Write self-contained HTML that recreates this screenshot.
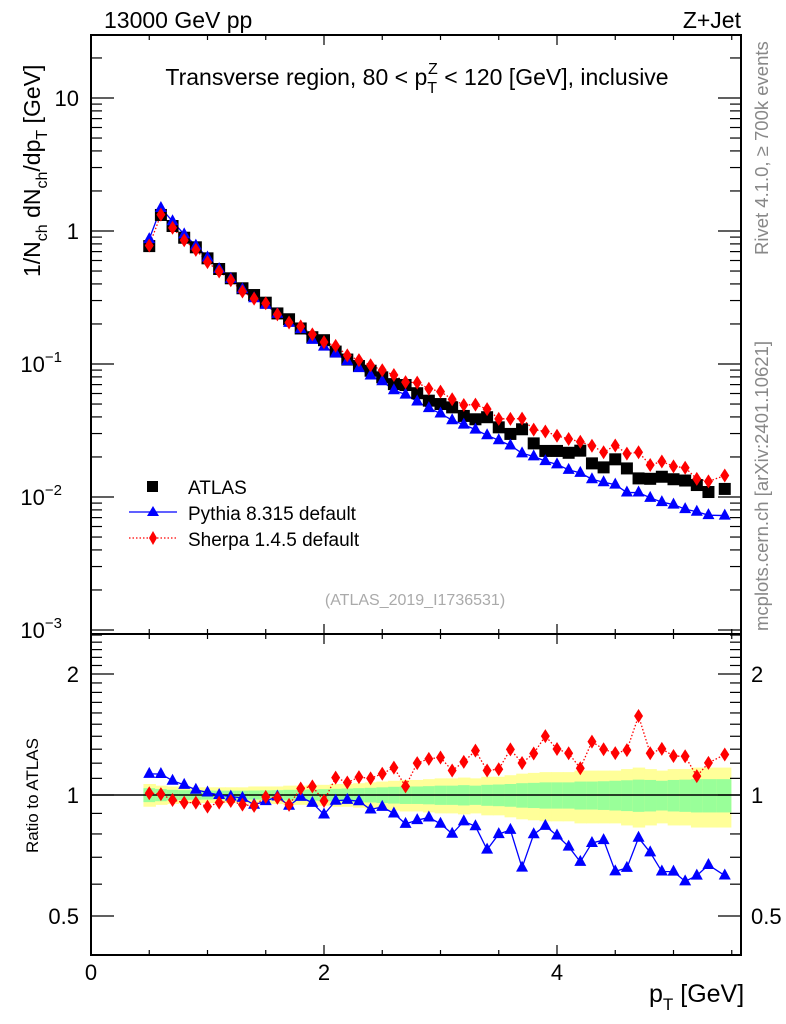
<!DOCTYPE html>
<html><head><meta charset="utf-8"><style>
html,body{margin:0;padding:0;background:#fff}
svg{display:block;font-family:"Liberation Sans",Arial,sans-serif}
</style></head><body>
<svg id="chart" width="786" height="1024" viewBox="0 0 786 1024" xmlns="http://www.w3.org/2000/svg">
<g id="bands"></g>
<g id="grid"></g>
<g id="marks"></g>
<text x="104" y="28" font-size="23">13000 GeV pp</text>
<text x="741" y="28" font-size="23" text-anchor="end">Z+Jet</text>
<text x="417" y="85" font-size="23" text-anchor="middle">Transverse region, 80 &lt; p<tspan font-size="16" dy="8">T</tspan><tspan font-size="16" dx="-9" dy="-19">Z</tspan><tspan dy="11"> &lt; 120 [GeV], inclusive</tspan></text>
<text transform="translate(40,277) rotate(-90)" font-size="23">1/N<tspan font-size="16" dy="7">ch</tspan><tspan dy="-7"> dN</tspan><tspan font-size="16" dy="7">ch</tspan><tspan dy="-7">/dp</tspan><tspan font-size="16" dy="7">T</tspan><tspan dy="-7"> [GeV]</tspan></text>
<text transform="translate(38,853) rotate(-90)" font-size="17">Ratio to ATLAS</text>
<text x="649" y="1002" font-size="25">p<tspan font-size="17" dy="8">T</tspan><tspan dy="-8"> [GeV]</tspan></text>
<text transform="translate(768,255) rotate(-90)" font-size="18.5" fill="#888">Rivet 4.1.0, ≥ 700k events</text>
<text transform="translate(768,631) rotate(-90)" font-size="18.5" fill="#888">mcplots.cern.ch [arXiv:2401.10621]</text>
<text x="415" y="605" font-size="16" fill="#aaa" text-anchor="middle">(ATLAS_2019_I1736531)</text>
<g>
<rect x="147" y="481" width="11" height="11" fill="#000"/>
<text x="188" y="494" font-size="19">ATLAS</text>
<line x1="129" y1="512" x2="177" y2="512" stroke="#00f" stroke-width="1.2"/>
<polygon points="153,506 159,516 147,516" fill="#00f"/>
<text x="188" y="520" font-size="19">Pythia 8.315 default</text>
<line x1="129" y1="538" x2="177" y2="538" stroke="#f00" stroke-width="1.2" stroke-dasharray="1.5,2"/>
<polygon points="153,531 157,538 153,545 149,538" fill="#f00"/>
<text x="188" y="546" font-size="19">Sherpa 1.4.5 default</text>
</g>
</svg>
<script>
const xValues=[0.5,0.6,0.7,0.8,0.9,1.0,1.1,1.2,1.3,1.4,1.5,1.6,1.7,1.8,1.9,2.0,2.1,2.2,2.3,2.4,2.5,2.6,2.7,2.8,2.9,3.0,3.1,3.2,3.3,3.4,3.5,3.6,3.7,3.8,3.9,4.0,4.1,4.2,4.3,4.4,4.5,4.6,4.7,4.8,4.9,5.0,5.1,5.2,5.3,5.44];
const atlas=[0.77,1.32,1.09,0.89,0.754,0.623,0.518,0.441,0.371,0.330,0.289,0.240,0.217,0.185,0.159,0.151,0.124,0.108,0.0966,0.089,0.0794,0.0706,0.0695,0.0603,0.053,0.05,0.0472,0.0407,0.0384,0.0398,0.0334,0.0298,0.0323,0.0253,0.0222,0.0222,0.0215,0.0223,0.0179,0.0167,0.0192,0.0164,0.0138,0.0137,0.0142,0.0136,0.0133,0.0123,0.0109,0.0115];
const pythia=[0.869,1.489,1.183,0.943,0.777,0.632,0.518,0.437,0.365,0.312,0.279,0.238,0.204,0.183,0.152,0.135,0.120,0.105,0.0932,0.0819,0.0742,0.0635,0.0589,0.0522,0.0466,0.0424,0.0378,0.0350,0.0321,0.0291,0.0267,0.0244,0.0213,0.0202,0.0186,0.0176,0.0160,0.0152,0.0136,0.0129,0.0124,0.0108,0.0108,0.00986,0.00916,0.00877,0.00811,0.00775,0.00730,0.00725];
const sherpa=[0.778,1.327,1.059,0.852,0.722,0.583,0.496,0.426,0.351,0.310,0.286,0.236,0.205,0.192,0.167,0.146,0.137,0.116,0.107,0.0979,0.0897,0.0826,0.0730,0.0724,0.0652,0.062,0.0543,0.0492,0.0495,0.0458,0.0387,0.0387,0.0388,0.0321,0.0311,0.0289,0.0273,0.0260,0.0243,0.0217,0.0244,0.0212,0.0217,0.0174,0.0185,0.0170,0.0166,0.0137,0.0131,0.0145];
const totalErr=[0.065,0.055,0.05,0.045,0.045,0.045,0.045,0.045,0.045,0.05,0.05,0.05,0.055,0.055,0.06,0.06,0.065,0.065,0.07,0.075,0.08,0.085,0.09,0.09,0.095,0.1,0.1,0.105,0.1,0.11,0.11,0.12,0.13,0.135,0.14,0.14,0.14,0.15,0.15,0.15,0.15,0.16,0.17,0.16,0.15,0.16,0.16,0.17,0.17,0.17];
const statErr=[0.04,0.035,0.03,0.028,0.027,0.026,0.025,0.025,0.025,0.026,0.027,0.028,0.03,0.03,0.032,0.034,0.036,0.038,0.04,0.042,0.045,0.048,0.05,0.05,0.052,0.055,0.055,0.058,0.055,0.06,0.062,0.065,0.07,0.072,0.075,0.075,0.075,0.08,0.08,0.082,0.085,0.088,0.092,0.09,0.085,0.09,0.092,0.095,0.095,0.095];
const xTicks=[0,2,4];
const logTickLabels=[["10",1],["1",0],["10","−1"],["10","−2"],["10","−3"]];
const ratioTicks=[["0.5",0.5],["1",1],["2",2]];

const NS="http://www.w3.org/2000/svg";
const L=91,R=741,T=35,MB=634,B=955;
const sx=v=>L+v*116.5;
const sy=v=>231-133*Math.log10(v);
const ry=v=>795-121*Math.log2(v);
function mk(tag,attrs,parent){const e=document.createElementNS(NS,tag);for(const k in attrs)e.setAttribute(k,attrs[k]);parent.appendChild(e);return e;}
const grid=document.getElementById('grid'),marks=document.getElementById('marks'),bands=document.getElementById('bands');

xValues.forEach((x,i)=>{
  const lo=i>0?(x+xValues[i-1])/2:x-0.05;
  const hi=i<xValues.length-1?(x+xValues[i+1])/2:x+0.05;
  const x0=sx(lo),w=sx(hi)-sx(lo)+0.8;
  const y1=mk('rect',{x:x0,y:ry(1+totalErr[i]),width:w,height:ry(1-totalErr[i])-ry(1+totalErr[i]),fill:'#ffff99'},bands);
  
  
  const y2=mk('rect',{x:x0,y:ry(1+statErr[i]),width:w,height:ry(1-statErr[i])-ry(1+statErr[i]),fill:'#99ff99'},bands);
  
  
});

let f=mk('rect',{x:L,y:T,width:R-L,height:MB-T,fill:'none',stroke:'#000','stroke-width':2},grid);


f=mk('rect',{x:L,y:MB,width:R-L,height:B-MB,fill:'none',stroke:'#000','stroke-width':2},grid);


mk('line',{x1:L,x2:R,y1:ry(1),y2:ry(1),stroke:'#000','stroke-width':1.5},grid);

for(let v=0;v<=5.5;v+=0.5){
  const maj=Math.abs(v-Math.round(v/2)*2)<1e-6;
  const len=maj?10:5;
  [[B,-1],[MB,-1],[MB,1],[T,1]].forEach(([y0,d])=>mk('line',{x1:sx(v),x2:sx(v),y1:y0,y2:y0+d*len,stroke:'#000','stroke-width':1.2},grid));
}
xTicks.forEach(v=>{const t=mk('text',{x:sx(v),y:980,'font-size':22,'text-anchor':'middle'},grid);t.textContent=v;

});

for(let e=-3;e<=1;e++){for(let m=1;m<=9;m++){const v=m*Math.pow(10,e);const y=sy(v);if(y<T||y>MB)continue;const len=m==1?23:11;
mk('line',{x1:L,x2:L+len,y1:y,y2:y,stroke:'#000','stroke-width':1.2},grid);mk('line',{x1:R,x2:R-len,y1:y,y2:y,stroke:'#000','stroke-width':1.2},grid);}}
logTickLabels.forEach(([b,e])=>{const v=Math.pow(10,Number(String(e).replace('−','-')));const t=mk('text',{x:79,y:sy(v)+8,'font-size':22,'text-anchor':'end'},grid);
if(b==="1"&&e===0){t.textContent="1";}else if(e===1){t.textContent="10";}else{t.textContent=b;const s=mk('tspan',{'font-size':15,dy:-10},t);s.textContent=e;}
if(e!==0&&e!==1)t.setAttribute('x',62);

});

for(let k=4;k<=25;k++){const v=k/10;const y=ry(v);if(y<MB||y>B)continue;const maj=(k==5||k==10||k==20);const len=maj?23:11;
mk('line',{x1:L,x2:L+len,y1:y,y2:y,stroke:'#000','stroke-width':1.2},grid);mk('line',{x1:R,x2:R-len,y1:y,y2:y,stroke:'#000','stroke-width':1.2},grid);}
ratioTicks.forEach(([lab,v])=>{[[79,'end'],[751,'start']].forEach(([x,a])=>{const t=mk('text',{x:x,y:ry(v)+8,'font-size':22,'text-anchor':a},grid);t.textContent=lab;

});});

function line(pts,col,dash){const a={points:pts.join(' '),fill:'none',stroke:col,'stroke-width':1.3};if(dash)a['stroke-dasharray']='1.5,2';return mk('polyline',a,marks);}
const tri=(x,y)=>`${x},${y-7} ${x+6},${y+4} ${x-6},${y+4}`;
const dia=(x,y)=>`${x},${y-7} ${x+4.5},${y} ${x},${y+7} ${x-4.5},${y}`;
let p=line(xValues.map((x,i)=>sx(x)+','+sy(pythia[i])),'#00f');


p=line(xValues.map((x,i)=>sx(x)+','+sy(sherpa[i])),'#f00',true);


p=line(xValues.map((x,i)=>sx(x)+','+ry(pythia[i]/atlas[i])),'#00f');


p=line(xValues.map((x,i)=>sx(x)+','+ry(sherpa[i]/atlas[i])),'#f00',true);


xValues.forEach((x,i)=>{
  const X=sx(x);
  const a=mk('rect',{x:X-6,y:sy(atlas[i])-6,width:12,height:12,fill:'#000'},marks);
  
  
  const pt=mk('polygon',{points:tri(X,sy(pythia[i])),fill:'#00f'},marks);
  
  
  const st=mk('polygon',{points:dia(X,sy(sherpa[i])),fill:'#f00'},marks);
  
  
  const pr=mk('polygon',{points:tri(X,ry(pythia[i]/atlas[i])),fill:'#00f'},marks);
  
  
  const sr=mk('polygon',{points:dia(X,ry(sherpa[i]/atlas[i])),fill:'#f00'},marks);
  
  
});
</script>
</body></html>
